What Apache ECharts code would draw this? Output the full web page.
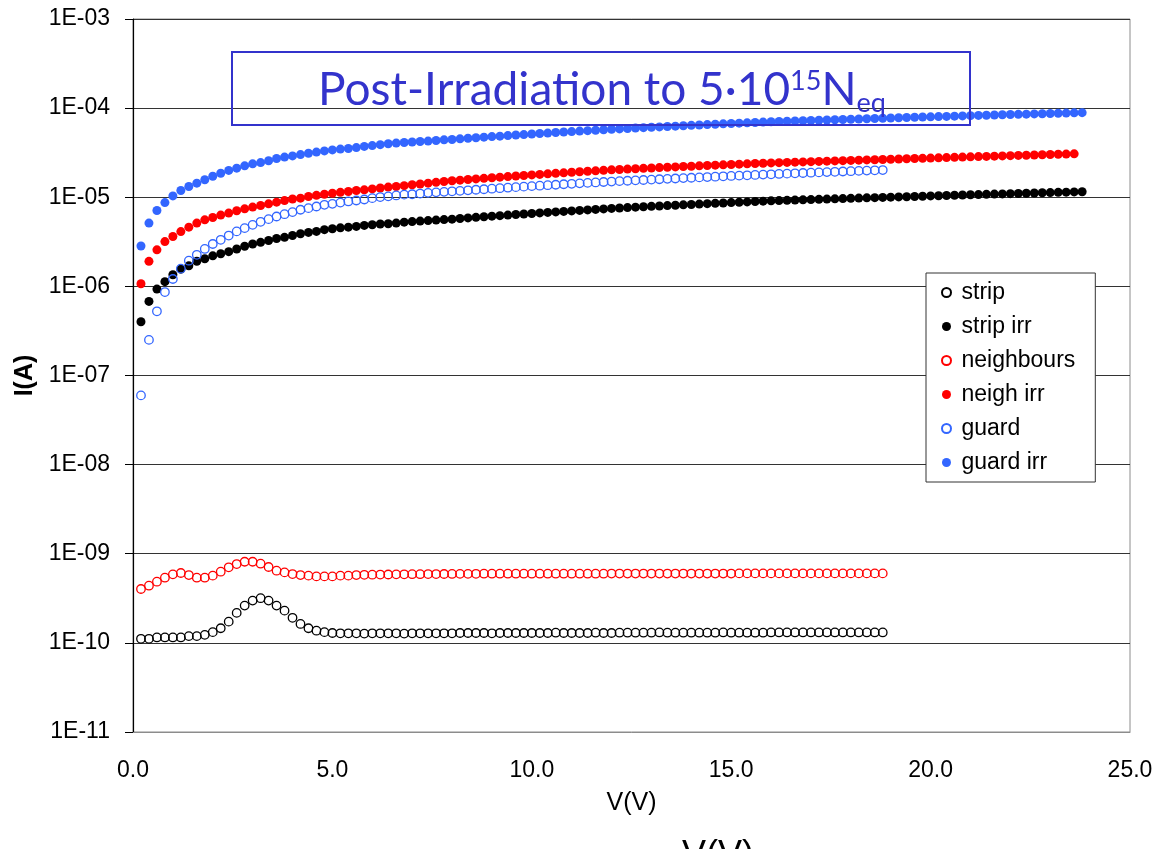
<!DOCTYPE html>
<html>
<head>
<meta charset="utf-8">
<script src="https://cdn.jsdelivr.net/npm/echarts@6/dist/echarts.min.js"></script>
<style>
html,body{margin:0;padding:0;background:#fff;}
#chart{width:1169px;height:849px;}
</style>
</head>
<body>
<div id="chart"></div>
<script>
// ---- data ----
const VOLTS = [
  0.2,0.4,0.6,0.8,1.0,1.2,1.4,1.6,1.8,2.0,
  2.2,2.4,2.6,2.8,3.0,3.2,3.4,3.6,3.8,4.0,
  4.2,4.4,4.6,4.8,5.0,5.2,5.4,5.6,5.8,6.0,
  6.2,6.4,6.6,6.8,7.0,7.2,7.4,7.6,7.8,8.0,
  8.2,8.4,8.6,8.8,9.0,9.2,9.4,9.6,9.8,10.0,
  10.2,10.4,10.6,10.8,11.0,11.2,11.4,11.6,11.8,12.0,
  12.2,12.4,12.6,12.8,13.0,13.2,13.4,13.6,13.8,14.0,
  14.2,14.4,14.6,14.8,15.0,15.2,15.4,15.6,15.8,16.0,
  16.2,16.4,16.6,16.8,17.0,17.2,17.4,17.6,17.8,18.0,
  18.2,18.4,18.6,18.8,19.0,19.2,19.4,19.6,19.8,20.0,
  20.2,20.4,20.6,20.8,21.0,21.2,21.4,21.6,21.8,22.0,
  22.2,22.4,22.6,22.8,23.0,23.2,23.4,23.6,23.8
];

const STRIP = [
  1.11e-10,1.11e-10,1.15e-10,1.15e-10,1.15e-10,1.15e-10,1.19e-10,1.19e-10,1.23e-10,1.32e-10,
  1.46e-10,1.73e-10,2.17e-10,2.62e-10,2.98e-10,3.17e-10,2.98e-10,2.62e-10,2.30e-10,1.91e-10,
  1.63e-10,1.46e-10,1.37e-10,1.32e-10,1.29e-10,
  1.28e-10,1.28e-10,1.28e-10,1.27e-10,1.28e-10,1.28e-10,1.28e-10,1.28e-10,1.27e-10,1.28e-10,
  1.28e-10,1.28e-10,1.28e-10,1.28e-10,1.28e-10,
  1.29e-10,1.29e-10,1.29e-10,1.29e-10,1.28e-10,1.29e-10,1.29e-10,1.29e-10,1.29e-10,1.29e-10,
  1.29e-10,1.29e-10,1.30e-10,1.29e-10,1.29e-10,1.29e-10,1.29e-10,1.30e-10,1.29e-10,1.29e-10,
  1.30e-10,1.30e-10,1.30e-10,1.30e-10,1.30e-10,1.31e-10,1.30e-10,1.30e-10,1.30e-10,1.30e-10,
  1.30e-10,1.30e-10,1.30e-10,1.31e-10,1.30e-10,1.30e-10,1.30e-10,1.30e-10,1.30e-10,1.31e-10,
  1.31e-10,1.31e-10,1.31e-10,1.31e-10,1.31e-10,1.31e-10,1.31e-10,1.31e-10,1.31e-10,1.31e-10,
  1.31e-10,1.31e-10,1.31e-10,1.31e-10
];

const NEIGHBOURS = [
  4.02e-10,4.38e-10,4.86e-10,5.39e-10,5.87e-10,6.08e-10,5.77e-10,5.39e-10,5.39e-10,5.68e-10,
  6.29e-10,7.04e-10,7.66e-10,8.13e-10,8.13e-10,7.73e-10,7.10e-10,6.46e-10,6.18e-10,5.92e-10,
  5.77e-10,5.68e-10,5.57e-10,5.57e-10,5.57e-10,5.68e-10,5.68e-10,5.77e-10,
  5.80e-10,5.82e-10,5.84e-10,5.85e-10,5.87e-10,5.88e-10,5.90e-10,5.90e-10,5.92e-10,5.92e-10,
  5.93e-10,5.94e-10,5.95e-10,5.95e-10,5.96e-10,
  5.97e-10,5.97e-10,5.97e-10,5.97e-10,5.97e-10,5.97e-10,5.97e-10,5.97e-10,
  5.97e-10,5.97e-10,5.97e-10,5.97e-10,5.97e-10,5.97e-10,5.97e-10,5.97e-10,
  5.99e-10,5.99e-10,5.99e-10,5.99e-10,5.99e-10,5.99e-10,5.99e-10,5.99e-10,
  5.99e-10,5.99e-10,5.99e-10,5.99e-10,5.99e-10,5.99e-10,5.99e-10,5.99e-10,
  6.02e-10,6.02e-10,6.02e-10,6.02e-10,6.02e-10,6.02e-10,6.02e-10,6.02e-10,6.02e-10,6.02e-10,
  6.02e-10,6.02e-10,6.02e-10,6.02e-10,6.02e-10,6.02e-10,6.02e-10,6.02e-10,6.02e-10
];

const GUARD = [
  5.98e-8,2.51e-7,5.25e-7,8.63e-7,1.21e-6,1.58e-6,1.94e-6,2.26e-6,2.63e-6,2.99e-6,
  3.33e-6,3.72e-6,4.14e-6,4.50e-6,4.90e-6,5.30e-6,5.68e-6,6.08e-6,6.46e-6,6.81e-6,
  7.24e-6,7.55e-6,7.87e-6,8.22e-6,8.43e-6,8.71e-6,8.97e-6,9.20e-6,9.44e-6,9.77e-6,
  1.005e-5,1.023e-5,1.047e-5,1.07e-5,
  1.08e-5,1.10e-5,1.12e-5,1.135e-5,1.15e-5,1.165e-5,1.18e-5,
  1.197e-5,1.214e-5,1.23e-5,1.247e-5,1.264e-5,1.281e-5,1.298e-5,1.315e-5,1.332e-5,1.348e-5,
  1.365e-5,1.382e-5,1.399e-5,1.416e-5,1.432e-5,1.449e-5,1.466e-5,1.483e-5,1.50e-5,
  1.516e-5,1.531e-5,1.547e-5,1.562e-5,1.578e-5,1.593e-5,1.609e-5,1.624e-5,1.64e-5,1.655e-5,
  1.671e-5,1.686e-5,1.702e-5,1.717e-5,1.733e-5,1.748e-5,1.764e-5,1.779e-5,1.795e-5,1.81e-5,
  1.825e-5,1.84e-5,1.855e-5,1.87e-5,1.885e-5,1.90e-5,1.915e-5,1.93e-5,1.945e-5,1.96e-5,
  1.975e-5,1.99e-5,2.005e-5,2.02e-5
];

const STRIP_IRR = [
  4.01e-7,6.78e-7,9.33e-7,1.13e-6,1.35e-6,1.56e-6,1.70e-6,1.91e-6,2.04e-6,2.20e-6,
  2.32e-6,2.45e-6,2.63e-6,2.82e-6,2.99e-6,3.12e-6,3.27e-6,3.44e-6,3.55e-6,3.72e-6,
  3.89e-6,4.03e-6,4.14e-6,4.33e-6,4.43e-6,4.54e-6,4.62e-6,4.71e-6,4.83e-6,4.92e-6,
  5.01e-6,5.05e-6,5.13e-6,5.25e-6,
  5.33e-6,5.40e-6,5.47e-6,5.54e-6,5.61e-6,5.68e-6,5.77e-6,5.86e-6,5.95e-6,6.04e-6,
  6.13e-6,6.22e-6,6.31e-6,6.40e-6,6.49e-6,6.58e-6,6.67e-6,6.76e-6,6.85e-6,6.94e-6,
  7.03e-6,7.12e-6,7.21e-6,7.30e-6,7.40e-6,7.50e-6,
  7.58e-6,7.66e-6,7.74e-6,7.82e-6,7.90e-6,7.98e-6,8.06e-6,8.14e-6,8.22e-6,8.30e-6,
  8.38e-6,8.47e-6,8.55e-6,8.63e-6,8.71e-6,8.79e-6,8.87e-6,8.96e-6,9.04e-6,9.12e-6,
  9.18e-6,9.24e-6,9.30e-6,9.36e-6,9.42e-6,9.48e-6,9.54e-6,9.60e-6,9.66e-6,9.72e-6,
  9.78e-6,9.84e-6,9.90e-6,9.96e-6,1.002e-5,1.008e-5,1.014e-5,1.020e-5,1.026e-5,1.035e-5,
  1.041e-5,1.047e-5,1.053e-5,1.060e-5,1.066e-5,1.072e-5,1.078e-5,1.085e-5,1.091e-5,1.097e-5,
  1.103e-5,1.110e-5,1.116e-5,1.122e-5,1.128e-5,1.135e-5,1.141e-5,1.147e-5,1.153e-5
];

const NEIGH_IRR = [
  1.07e-6,1.91e-6,2.57e-6,3.18e-6,3.63e-6,4.12e-6,4.62e-6,5.13e-6,5.58e-6,5.92e-6,
  6.31e-6,6.64e-6,7.05e-6,7.41e-6,7.76e-6,8.07e-6,8.43e-6,8.81e-6,9.18e-6,9.55e-6,
  9.77e-6,1.02e-5,
  1.05e-5,1.08e-5,1.11e-5,1.136e-5,1.16e-5,1.19e-5,1.21e-5,1.24e-5,1.27e-5,1.30e-5,
  1.32e-5,1.35e-5,1.38e-5,1.41e-5,1.44e-5,1.47e-5,1.50e-5,1.53e-5,
  1.555e-5,1.58e-5,1.605e-5,1.63e-5,1.655e-5,1.68e-5,1.705e-5,1.73e-5,1.755e-5,1.78e-5,
  1.805e-5,1.83e-5,1.855e-5,1.88e-5,1.905e-5,1.93e-5,1.955e-5,1.98e-5,2.005e-5,2.03e-5,
  2.05e-5,2.07e-5,2.09e-5,2.11e-5,2.13e-5,2.15e-5,2.17e-5,2.19e-5,2.21e-5,2.23e-5,
  2.25e-5,2.27e-5,2.29e-5,2.31e-5,2.33e-5,2.35e-5,2.37e-5,2.39e-5,2.41e-5,2.43e-5,
  2.446e-5,2.462e-5,2.478e-5,2.494e-5,2.51e-5,2.526e-5,2.542e-5,2.558e-5,2.574e-5,2.59e-5,
  2.606e-5,2.622e-5,2.638e-5,2.654e-5,2.67e-5,2.686e-5,2.702e-5,2.718e-5,2.734e-5,2.75e-5,
  2.768e-5,2.786e-5,2.803e-5,2.821e-5,2.839e-5,2.857e-5,2.874e-5,2.892e-5,2.91e-5,2.928e-5,
  2.946e-5,2.963e-5,2.981e-5,2.999e-5,3.017e-5,3.034e-5,3.052e-5,3.07e-5
];

const GUARD_IRR = [
  2.84e-6,5.13e-6,7.10e-6,8.71e-6,1.035e-5,1.19e-5,1.32e-5,1.44e-5,1.57e-5,1.72e-5,
  1.86e-5,2.00e-5,2.12e-5,2.25e-5,2.37e-5,2.45e-5,2.57e-5,2.72e-5,2.82e-5,2.91e-5,
  3.01e-5,3.12e-5,3.21e-5,3.31e-5,3.40e-5,3.47e-5,3.52e-5,3.61e-5,3.72e-5,3.80e-5,
  3.89e-5,3.98e-5,4.05e-5,4.11e-5,4.17e-5,4.22e-5,4.27e-5,4.33e-5,4.41e-5,4.44e-5,
  4.52e-5,
  4.59e-5,4.65e-5,4.72e-5,4.79e-5,4.85e-5,4.92e-5,4.99e-5,5.05e-5,5.12e-5,5.19e-5,
  5.25e-5,5.32e-5,5.39e-5,5.45e-5,5.52e-5,5.59e-5,5.65e-5,5.72e-5,5.79e-5,
  5.85e-5,5.91e-5,5.97e-5,6.04e-5,6.10e-5,6.16e-5,6.22e-5,6.28e-5,6.35e-5,6.41e-5,
  6.47e-5,6.53e-5,6.59e-5,6.66e-5,6.72e-5,6.78e-5,6.84e-5,6.90e-5,6.97e-5,7.03e-5,
  7.08e-5,7.13e-5,7.17e-5,7.22e-5,7.27e-5,7.32e-5,7.36e-5,7.41e-5,7.46e-5,7.51e-5,
  7.56e-5,7.60e-5,7.65e-5,7.70e-5,7.75e-5,7.80e-5,7.84e-5,7.89e-5,7.94e-5,7.99e-5,
  8.03e-5,8.08e-5,8.13e-5,8.18e-5,8.23e-5,8.28e-5,8.32e-5,8.37e-5,8.42e-5,8.47e-5,
  8.52e-5,8.56e-5,8.61e-5,8.66e-5,8.71e-5,8.76e-5,8.80e-5,8.85e-5,8.90e-5
];

const SERIES_NAMES = ['strip','strip irr','neighbours','neigh irr','guard','guard irr'];
const X_MIN = 0, X_MAX = 25, X_STEP = 5;
const Y_MIN = 1e-11, Y_MAX = 1e-3;
const TITLE_MAIN = 'Post-Irradiation to 5·10';
const TITLE_SUP = '15';
const TITLE_N = 'N';
const TITLE_SUB = 'eq';
const X_NAME = 'V(V)';
const Y_NAME = 'I(A)';

// ---- chart ----
const FONT = "'Liberation Sans', Arial, sans-serif";
const TITLE_FONT = "'Comic Sans MS', Lato, sans-serif";
const BLUE = '#3366ff';
const TITLE_BLUE = '#3333cc';

function pair(vals) { return vals.map((v, i) => [VOLTS[i], v]); }
function fmtE(v) {
  const e = Math.round(Math.log10(v));
  return '1E' + (e < 0 ? '-' : '+') + String(Math.abs(e)).padStart(2, '0');
}
function openSeries(name, vals, color) {
  return {
    name, type: 'scatter', data: pair(vals), symbol: 'circle', symbolSize: 8.5,
    itemStyle: { color: 'rgba(255,255,255,0)', borderColor: color, borderWidth: 1.3, opacity: 1 },
    emphasis: { disabled: true }
  };
}
function filledSeries(name, vals, color) {
  return {
    name, type: 'scatter', data: pair(vals), symbol: 'circle', symbolSize: 9,
    itemStyle: { color: color, opacity: 1 },
    emphasis: { disabled: true }
  };
}

const chart = echarts.init(document.getElementById('chart'), null, { renderer: 'canvas' });
chart.setOption({
  animation: false,
  backgroundColor: '#fff',
  grid: { left: 133, right: 39, top: 19, bottom: 117, show: true, borderColor: '#8c8c8c', borderWidth: 1, backgroundColor: 'transparent' },
  xAxis: {
    type: 'value', min: X_MIN, max: X_MAX, interval: X_STEP,
    name: X_NAME, nameLocation: 'middle', nameGap: 59,
    nameTextStyle: { fontFamily: FONT, fontSize: 25, color: '#000' },
    axisLine: { show: true, lineStyle: { color: '#8c8c8c', width: 1 } },
    axisTick: { show: false },
    splitLine: { show: false },
    axisLabel: { margin: 27, fontFamily: FONT, fontSize: 23, color: '#000', formatter: v => v.toFixed(1) }
  },
  yAxis: {
    type: 'log', logBase: 10, min: Y_MIN, max: Y_MAX, interval: 1, splitNumber: 8,
    name: Y_NAME, nameLocation: 'middle', nameGap: 92, nameRotate: 90,
    nameTextStyle: { fontFamily: FONT, fontSize: 25, fontWeight: 'bold', color: '#000' },
    axisLine: { show: true, lineStyle: { color: '#000', width: 1.2 } },
    axisTick: { show: true, inside: false, length: 8, lineStyle: { color: '#000', width: 1 } },
    splitLine: { show: true, showMinLine: false, showMaxLine: false, lineStyle: { color: '#333', width: 1.2 } },
    axisLabel: { margin: 23, fontFamily: FONT, fontSize: 23, color: '#000', formatter: fmtE }
  },
  legend: {
    orient: 'vertical', left: 926, top: 273,
    padding: [8, 20, 8, 15], itemGap: 11, itemWidth: 20, itemHeight: 9,
    backgroundColor: '#fff', borderColor: '#333', borderWidth: 1, borderRadius: 0,
    textStyle: { fontFamily: FONT, fontSize: 23, color: '#000' },
    data: SERIES_NAMES
  },
  series: [
    openSeries(SERIES_NAMES[0], STRIP, '#000'),
    filledSeries(SERIES_NAMES[1], STRIP_IRR, '#000'),
    openSeries(SERIES_NAMES[2], NEIGHBOURS, '#ff0000'),
    filledSeries(SERIES_NAMES[3], NEIGH_IRR, '#ff0000'),
    openSeries(SERIES_NAMES[4], GUARD, BLUE),
    filledSeries(SERIES_NAMES[5], GUARD_IRR, BLUE)
  ],
  graphic: [
    { type: 'rect', z: 100, shape: { x: 232, y: 52, width: 738, height: 73 },
      style: { fill: 'none', stroke: TITLE_BLUE, lineWidth: 2 } },
    { type: 'text', z: 101, x: 602, y: 90,
      style: {
        text: '{m|' + TITLE_MAIN + '}{s|' + TITLE_SUP + '}{m|' + TITLE_N + '}{b|' + TITLE_SUB + '}',
        align: 'center', verticalAlign: 'middle',
        rich: {
          m: { fontFamily: TITLE_FONT, fontSize: 46, fill: TITLE_BLUE, lineHeight: 54 },
          s: { fontFamily: TITLE_FONT, fontSize: 27, fill: TITLE_BLUE, verticalAlign: 'top', padding: [5, 0, 0, 0] },
          b: { fontFamily: TITLE_FONT, fontSize: 27, fill: TITLE_BLUE, verticalAlign: 'bottom' }
        }
      } },
    { type: 'text', z: 5, x: 718, y: 838,
      style: { text: X_NAME, align: 'center', verticalAlign: 'top', fontFamily: FONT, fontSize: 36, fill: '#000' } }
  ]
});
</script>
</body>
</html>
